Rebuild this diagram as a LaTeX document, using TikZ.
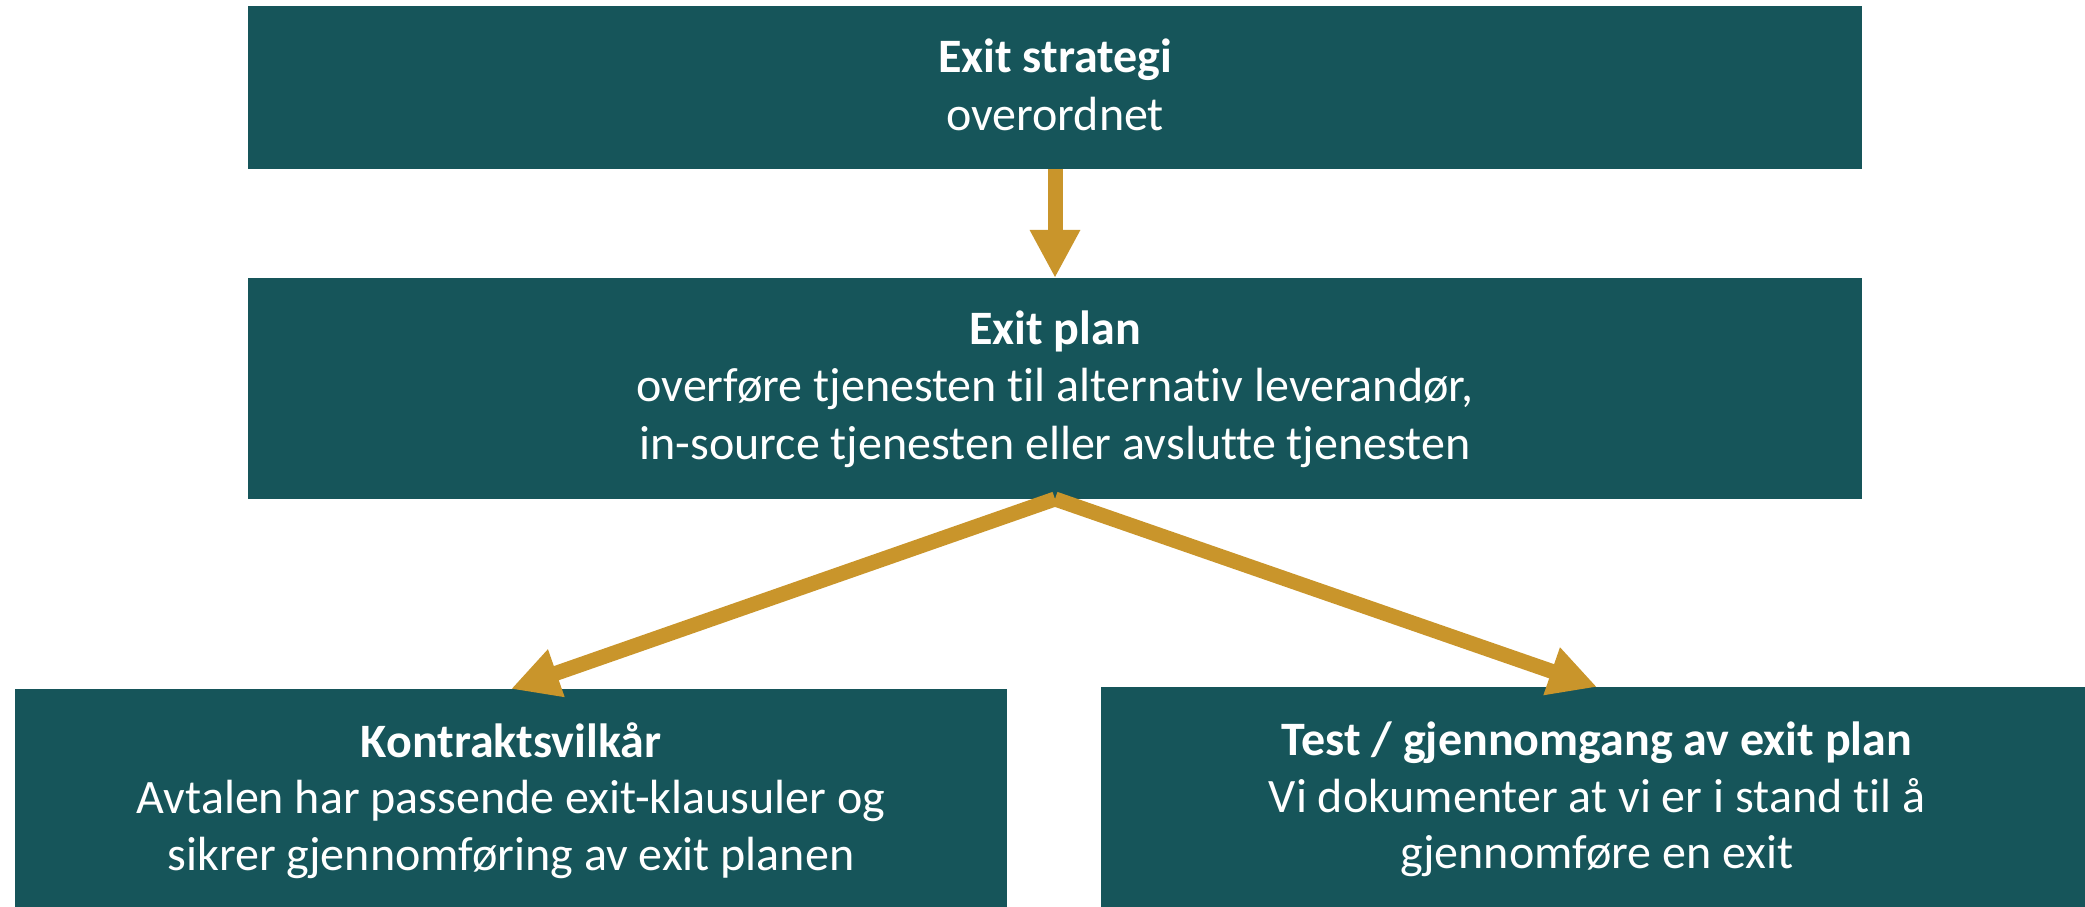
\documentclass[tikz,border=0pt]{standalone}
\usepackage{fontspec}
\setmainfont{Carlito}[Ligatures={NoCommon,NoContextual},RawFeature={-liga;-clig;-calt;-dlig}]
\usetikzlibrary{arrows.meta}
\definecolor{teal}{RGB}{22,85,90}
\definecolor{gold}{RGB}{201,149,43}
\begin{document}
\begin{tikzpicture}[x=1pt,y=1pt,
  box/.style={fill=teal,draw=none,inner sep=0pt,outer sep=0pt,rectangle},
  txt/.style={text=white,anchor=base,inner sep=0pt,font=\fontsize{48}{58}\selectfont},
  btxt/.style={txt,font=\fontsize{48}{58}\selectfont\bfseries},
  conn/.style={draw=gold,line width=15pt,-{Triangle[width=47pt,length=48pt]}}]
\useasboundingbox (0,0) rectangle (2085,906);
\begin{scope}
\clip (0,0) rectangle (2085,906);
\node[box,minimum width=1614pt,minimum height=163pt] (b1) at (1055,818.5) {};
\node[box,minimum width=1614pt,minimum height=221pt] (b2) at (1055,517.5) {};
\node[box,minimum width=992pt,minimum height=219pt] (b3) at (511,107.5) {};
\node[box,minimum width=992pt,minimum height=221pt] (b4) at (1597,108.5) {};
\end{scope}
\node[btxt] (t11) at (1055,833) {Exit strategi};
\node[txt] (t12) at (1055,775) {overordnet};
\node[btxt] (t21) at (1055,561) {Exit plan};
\node[txt] (t22) at (1055,504) {overføre tjenesten til alternativ leverandør,};
\node[txt] (t23) at (1055,446) {in-source tjenesten eller avslutte tjenesten};
\node[btxt] (t31) at (511,149) {Kontraktsvilkår};
\node[txt] (t32) at (511,93) {Avtalen har passende exit-klausuler og};
\node[txt] (t33) at (511,36) {sikrer gjennomføring av exit planen};
\node[btxt] (t41) at (1597,151) {Test / gjennomgang av exit plan};
\node[txt] (t42) at (1597,94) {Vi dokumenter at vi er i stand til å};
\node[txt] (t43) at (1597,38) {gjennomføre en exit};
\draw[conn] (b1.south) -- (b2.north);
\draw[conn] (b2.south) -- (b3.north);
\draw[conn] (b2.south) -- (b4.north);
\end{tikzpicture}
\end{document}
